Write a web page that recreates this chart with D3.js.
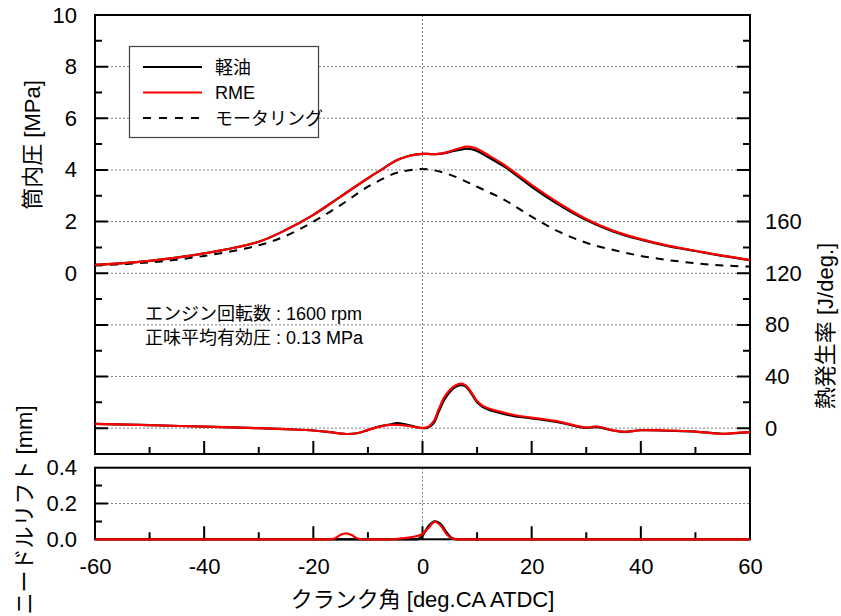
<!DOCTYPE html>
<html>
<head>
<meta charset="utf-8">
<script src="https://cdn.jsdelivr.net/npm/d3@7"></script>
<style>
  html, body { margin: 0; padding: 0; background: #fff; }
  svg text { font-family: "Liberation Sans", Arial, "Noto Sans CJK JP", sans-serif; fill: #000; }
</style>
</head>
<body>
<svg id="chart" width="841" height="616"></svg>
<script>
// Crank angle grid for the cylinder pressure traces [deg.CA ATDC]
const pressAngles = [-60,-50,-40,-30,-25,-20,-15,-10,-7,-5,-3,-1,0,1,2,3,4,5,6,7,8,9,10,12,15,20,25,30,35,40,45,50,55,60];
// Cylinder pressure [MPa]
const pressDiesel = [0.32,0.48,0.77,1.22,1.68,2.26,2.97,3.68,4.08,4.35,4.51,4.60,4.62,4.62,4.61,4.62,4.65,4.70,4.75,4.79,4.82,4.80,4.73,4.50,4.13,3.35,2.65,2.06,1.61,1.30,1.05,0.86,0.67,0.51];
const pressRME    = [0.32,0.48,0.77,1.22,1.68,2.26,2.97,3.68,4.08,4.35,4.51,4.60,4.62,4.62,4.61,4.62,4.66,4.72,4.79,4.85,4.90,4.89,4.82,4.58,4.19,3.42,2.71,2.10,1.64,1.32,1.07,0.87,0.68,0.52];
// Motoring pressure [MPa]
const motorAngles = [-60,-50,-40,-30,-25,-20,-15,-10,-5,-3,0,2,5,8,10,15,20,25,30,35,40,45,50,55,60];
const pressMotor  = [0.30,0.42,0.67,1.08,1.45,2.00,2.64,3.35,3.87,3.97,4.04,3.99,3.82,3.55,3.35,2.84,2.19,1.61,1.18,0.90,0.67,0.51,0.39,0.30,0.26];

// Heat release rate [J/deg.]
const hrrAngles = [-60,-50,-40,-30,-25,-20,-17,-14,-12,-10,-8,-6,-4.7,-3,-1,0,1,2,3,4,5,6,7,8,9,10,11,12,14,17,20,25,28,30,32,35,37,40,45,50,55,58,60];
const hrrDiesel = [3.3,2.3,1.2,0,-0.8,-1.8,-3.1,-4.5,-3.9,-1.5,1.2,2.8,3.9,2.8,0.8,0,0.6,3.5,13,22,28,31.8,33.3,32,26.5,20,16.5,14.5,12,9.2,7.6,4.5,1.6,0.2,0.8,-1.8,-2.9,-1.6,-2.0,-2.6,-4.4,-3.6,-3.1];
const hrrRME    = [3.3,2.3,1.2,0,-0.8,-1.8,-3.1,-4.5,-3.9,-1.3,1.0,2.6,2.5,2.0,0.6,0.2,1.0,5,15,24,29.6,33,34.5,33,27.5,21,17.5,15.5,13,10,8.2,5.1,2.0,0.5,1.3,-1.8,-2.9,-1.6,-1.8,-2.6,-4.4,-3.4,-3.1];

// Needle lift [mm]
const liftDieselAngles = [-60,-1,0,1,2.3,3.5,4.5,5.5,6.5,60];
const liftDiesel       = [0,0,0.02,0.07,0.10,0.08,0.035,0.005,0,0];
const liftRMEAngles = [-60,-17,-16,-15,-14,-13,-12,-11,-5.5,-4,-2,0,1,2.3,3.5,4.5,5.5,6.5,60];
const liftRME       = [0,0,0.006,0.025,0.033,0.024,0.006,0,0,0.005,0.012,0.03,0.06,0.098,0.07,0.025,0.003,0,0];

// Axis ticks
const xTicks = [-60,-40,-20,0,20,40,60];
const xMinorTicks = [-50,-30,-10,10,30,50];
const pressTickLabels = [0,2,4,6,8,10];
const pressMajorTicks = [-6,-4,-2,0,2,4,6,8];
const pressMinorTicks = [-5,-3,-1,1,3,5,7,9];
const hrrTickLabels = [0,40,80,120,160];
const hrrMajorTicks = [0,40,80,120,160,200,240,280];
const hrrMinorTicks = [20,60,100,140,180,220,260,300];
const liftTickLabels = [0,0.2,0.4];
const liftMinorTicks = [0.1,0.3];

const legendNames = ["軽油", "RME", "モータリング"];

const svg = d3.select("#chart");

// Panel geometry
const L = 95, R = 750, T = 15, B = 454;
const LT = 467.7, LB = 539.3;

const x = d3.scaleLinear().domain([-60, 60]).range([L, R]);
const yP = d3.scaleLinear().domain([-7, 10]).range([B, T]);
const yH = d3.scaleLinear().domain([-20, 320]).range([B, T]);
const yN = d3.scaleLinear().domain([0, 0.4]).range([LB, LT]);

const hyphenFmt = f => d => f(d).replace("\u2212", "-");

const gridStyle = sel => sel.attr("stroke", "#808080").attr("stroke-width", 1).attr("stroke-dasharray", "2,2").attr("fill", "none");

// Horizontal dotted grid lines (upper panel)
svg.append("g").selectAll("line").data(pressMajorTicks).join("line")
  .attr("x1", L).attr("x2", R).attr("y1", d => yP(d)).attr("y2", d => yP(d))
  .call(gridStyle);
// TDC line
svg.append("line").attr("x1", x(0)).attr("x2", x(0)).attr("y1", T).attr("y2", B).call(gridStyle);

// Lower panel grid
svg.append("line").attr("x1", L).attr("x2", R).attr("y1", yN(0.2)).attr("y2", yN(0.2)).call(gridStyle);
svg.append("line").attr("x1", x(0)).attr("x2", x(0)).attr("y1", LT).attr("y2", LB).call(gridStyle);

// Tick labels through the d3 axes
function labelAxis(g) {
  g.select(".domain").remove();
  g.selectAll(".tick line").remove();
  g.selectAll(".tick text").attr("font-size", 22).attr("font-family", null).attr("fill", "#000");
}
svg.append("g").attr("transform", `translate(${L},0)`)
  .call(d3.axisLeft(yP).tickValues(pressTickLabels).tickSize(0).tickPadding(18).tickFormat(d3.format("d")))
  .call(labelAxis);
svg.append("g").attr("transform", `translate(${R},0)`)
  .call(d3.axisRight(yH).tickValues(hrrTickLabels).tickSize(0).tickPadding(15).tickFormat(d3.format("d")))
  .call(labelAxis);
svg.append("g").attr("transform", `translate(${L},0)`)
  .call(d3.axisLeft(yN).tickValues(liftTickLabels).tickSize(0).tickPadding(18).tickFormat(d3.format(".1f")))
  .call(labelAxis);
svg.append("g").attr("transform", `translate(0,${LB})`)
  .call(d3.axisBottom(x).tickValues(xTicks).tickSize(0).tickPadding(19).tickFormat(hyphenFmt(d3.format("d"))))
  .call(labelAxis);

// Panel frames
svg.append("rect").attr("x", L).attr("y", T).attr("width", R - L).attr("height", B - T)
  .attr("fill", "none").attr("stroke", "#000").attr("stroke-width", 2);
svg.append("rect").attr("x", L).attr("y", LT).attr("width", R - L).attr("height", LB - LT)
  .attr("fill", "none").attr("stroke", "#000").attr("stroke-width", 2);

// Inward tick marks, one path per axis edge
const hTickPath = (vals, scale, x0, len) => vals.map(v => `M${x0},${scale(v)}h${len}`).join("");
const vTickPath = (vals, y0, len) => vals.map(v => `M${x(v)},${y0}v${-len}`).join("");
const tickPaths = [
  hTickPath(pressMajorTicks, yP, L, 13), hTickPath(pressMinorTicks, yP, L, 7),
  hTickPath(hrrMajorTicks, yH, R, -13), hTickPath(hrrMinorTicks, yH, R, -7),
  hTickPath([0.2], yN, L, 13), hTickPath(liftMinorTicks, yN, L, 7),
  vTickPath(xTicks.slice(1, -1), B, 13), vTickPath(xMinorTicks, B, 7),
  vTickPath(xTicks.slice(1, -1), LB, 13), vTickPath(xMinorTicks, LB, 7)
];
svg.append("g").selectAll("path").data(tickPaths).join("path")
  .attr("d", d => d).attr("fill", "none").attr("stroke", "#000").attr("stroke-width", 2);

// Lines
const mk = (xs, ys, yScale) => xs.map((a, i) => [x(a), yScale(ys[i])]);
const smooth = d3.line().curve(d3.curveCatmullRom.alpha(0.5));
const mono = d3.line().curve(d3.curveMonotoneX);

function drawLine(gen, pts, color, dash, width) {
  svg.append("path").attr("d", gen(pts)).attr("fill", "none")
    .attr("stroke", color).attr("stroke-width", width)
    .attr("stroke-dasharray", dash || null).attr("stroke-linejoin", "round");
}

drawLine(smooth, mk(motorAngles, pressMotor, yP), "#000", "8,7", 2);
drawLine(smooth, mk(pressAngles, pressDiesel, yP), "#000", null, 2.2);
drawLine(smooth, mk(pressAngles, pressRME, yP), "#ff0000", null, 2.2);

drawLine(smooth, mk(hrrAngles, hrrDiesel, yH), "#000", null, 2.2);
drawLine(smooth, mk(hrrAngles, hrrRME, yH), "#ff0000", null, 2.2);

drawLine(mono, mk(liftDieselAngles, liftDiesel, yN), "#000", null, 2.2);
drawLine(mono, mk(liftRMEAngles, liftRME, yN), "#ff0000", null, 2.2);

// Legend
const lg = svg.append("g");
lg.append("rect").attr("x", 129.5).attr("y", 46.5).attr("width", 189).attr("height", 91)
  .attr("fill", "#fff").attr("stroke", "#444").attr("stroke-width", 1.2);
const legendStyles = [
  { color: "#000", dash: null },
  { color: "#ff0000", dash: null },
  { color: "#000", dash: "8,8" }
];
legendNames.forEach((name, i) => {
  const cy = 67 + i * 25.5;
  lg.append("line").attr("x1", 143).attr("x2", 202).attr("y1", cy).attr("y2", cy)
    .attr("stroke", legendStyles[i].color).attr("stroke-width", 2)
    .attr("stroke-dasharray", legendStyles[i].dash);
  lg.append("text").attr("x", 215).attr("y", cy + 6.5).attr("font-size", 18).text(name);
});

// Operating condition note
svg.append("text").attr("x", 145).attr("y", 319.5).attr("font-size", 18).text("エンジン回転数 : 1600 rpm");
svg.append("text").attr("x", 145).attr("y", 343.5).attr("font-size", 18).text("正味平均有効圧 : 0.13 MPa");

// Axis titles
svg.append("text").attr("x", 422.5).attr("y", 607).attr("text-anchor", "middle").attr("font-size", 22)
  .text("クランク角 [deg.CA ATDC]");
svg.append("text").attr("transform", "translate(40,145) rotate(-90)").attr("text-anchor", "middle").attr("font-size", 22)
  .text("筒内圧 [MPa]");
svg.append("text").attr("transform", "translate(32,510) rotate(-90)").attr("text-anchor", "middle").attr("font-size", 22)
  .text("ニードルリフト [mm]");
svg.append("text").attr("transform", "translate(833,326) rotate(-90)").attr("text-anchor", "middle").attr("font-size", 22)
  .text("熱発生率 [J/deg.]");
</script>
</body>
</html>
